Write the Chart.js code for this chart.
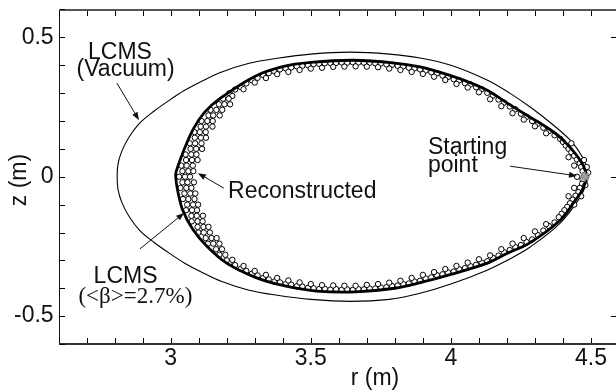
<!DOCTYPE html>
<html><head><meta charset="utf-8">
<script src="https://cdn.jsdelivr.net/npm/chart.js@4.4.0/dist/chart.umd.min.js"></script>
<style>
html,body{margin:0;padding:0;overflow:hidden;background:#fff;width:616px;height:391px}
#wrap{position:absolute;left:0;top:0;width:620px;height:391px}
canvas{display:block}
</style>
</head><body><div id="wrap"><canvas id="c" width="620" height="391" style="width:620px;height:391px"></canvas></div>
<script>
// ---- axis ranges and tick labels ----
const xRange = [2.6, 4.6];
const yRange = [-0.6, 0.6];
const xTickLabels = [3, 3.5, 4, 4.5];
const yTickLabels = [-0.5, 0, 0.5];
const minorStep = 0.1;

// ---- LCMS (vacuum), outer thin curve ----
const vacR = [4.49,4.487,4.47,4.426,4.36,4.283,4.21,4.129,4.0,3.89,3.78,3.64,3.50,3.38,3.28,3.18,3.104,3.05,2.996,2.94,2.889,2.85,2.825,2.812,2.809,2.812,2.825,2.85,2.889,2.94,2.996,3.05,3.104,3.18,3.28,3.38,3.50,3.64,3.78,3.89,4.0,4.129,4.21,4.283,4.39,4.461,4.485,4.49];
const vacZ = [0,0.024,0.07,0.131,0.19,0.25,0.30,0.347,0.40,0.426,0.44,0.447,0.44,0.425,0.407,0.375,0.339,0.31,0.275,0.235,0.192,0.14,0.09,0.045,0,-0.045,-0.09,-0.14,-0.192,-0.235,-0.275,-0.31,-0.339,-0.375,-0.407,-0.425,-0.44,-0.447,-0.44,-0.418,-0.385,-0.335,-0.295,-0.252,-0.166,-0.074,-0.02,0];

// ---- LCMS (<beta>=2.7%), inner thick curve ----
const lcmsR = [4.487,4.47,4.43,4.38,4.33,4.28,4.20,4.13,4.05,3.95,3.89,3.80,3.65,3.50,3.40,3.30,3.175,3.12,3.08,3.045,3.02,3.018,3.025,3.043,3.08,3.13,3.2,3.3,3.4,3.52,3.66,3.8,3.89,4.0,4.13,4.2,4.28,4.39,4.44,4.47,4.487];
const lcmsZ = [0,0.045,0.10,0.15,0.185,0.215,0.265,0.31,0.345,0.378,0.394,0.408,0.418,0.41,0.395,0.36,0.28,0.23,0.17,0.09,0.02,0,-0.05,-0.12,-0.19,-0.25,-0.31,-0.36,-0.39,-0.41,-0.413,-0.40,-0.38,-0.35,-0.31,-0.275,-0.238,-0.156,-0.09,-0.045,0];

// ---- Reconstructed points (open circles) ----
const recR = [
3.21,3.23,3.25,3.27,3.29,3.31,3.33,3.35,3.37,3.39,3.41,3.43,3.45,3.47,3.49,3.51,3.53,3.55,3.57,3.59,3.61,3.63,3.65,3.67,3.69,3.71,3.73,3.75,3.77,3.79,3.81,3.83,3.85,3.87,3.89,3.91,3.93,3.95,3.97,3.99,4.01,4.03,4.05,4.07,4.09,4.11,4.13,4.15,4.17,4.19,4.21,4.23,4.25,4.27,4.29,4.31,4.33,4.35,4.37,4.39,
3.22,3.26,3.30,3.34,3.38,3.42,3.46,3.50,3.54,3.58,3.62,3.66,3.70,3.74,3.78,3.82,3.86,3.90,3.94,3.98,4.02,4.06,4.10,4.14,4.18,4.22,4.26,4.30,4.34,
3.21,3.23,3.25,3.27,3.29,3.31,3.33,3.35,3.37,3.39,3.41,3.43,3.45,3.47,3.49,3.51,3.53,3.55,3.57,3.59,3.61,3.63,3.65,3.67,3.69,3.71,3.73,3.75,3.77,3.79,3.81,3.83,3.85,3.87,3.89,3.91,3.93,3.95,3.97,3.99,4.01,4.03,4.05,4.07,4.09,4.11,4.13,4.15,4.17,4.19,4.21,4.23,4.25,4.27,4.29,4.31,4.33,4.35,4.37,4.39,
3.22,3.26,3.30,3.34,3.38,3.42,3.46,3.50,3.54,3.58,3.62,3.66,3.70,3.74,3.78,3.82,3.86,3.90,3.94,3.98,4.02,4.06,4.10,4.14,4.18,4.22,4.26,4.30,4.34,
4.40,4.41,4.42,4.43,4.44,4.45,4.46,4.465,4.47,4.475,4.47,4.468,4.46,4.455,4.445,4.435,4.425,4.415,4.405,4.395,4.385,
4.475,4.485,4.49,4.48,4.465,4.43,4.44,4.44,4.45,4.44,4.42,4.42,
3.187,3.207,
3.172,3.192,3.212,
3.142,3.163,3.184,
3.135,3.152,3.175,
3.110,3.131,3.150,
3.107,3.126,3.149,
3.085,3.104,3.125,
3.086,3.108,3.126,
3.068,3.087,3.110,
3.071,3.091,3.112,
3.053,3.074,3.092,
3.055,3.076,3.096,
3.038,3.057,3.079,
3.042,3.063,3.081,
3.030,3.051,3.069,
3.042,3.060,3.083,
3.035,3.056,3.074,
3.049,3.070,3.088,
3.044,3.063,3.085,
3.059,3.080,3.098,
3.055,3.076,3.094,
3.074,3.093,3.115,
3.075,3.096,3.114,
3.096,3.117,3.135,
3.099,3.118,3.140,
3.125,3.146,3.164,
3.133,3.152,3.174,
3.162,3.183,
3.174,3.195,
3.20
];
const recZ = [
0.300,0.313,0.322,0.335,0.346,0.355,0.365,0.372,0.378,0.385,0.389,0.392,0.396,0.398,0.400,0.404,0.405,0.407,0.408,0.408,0.410,0.409,0.411,0.410,0.409,0.409,0.407,0.406,0.403,0.402,0.398,0.396,0.391,0.389,0.385,0.381,0.375,0.371,0.363,0.358,0.350,0.346,0.336,0.331,0.321,0.314,0.301,0.291,0.277,0.266,0.252,0.242,0.226,0.215,0.200,0.190,0.176,0.164,0.149,0.136,
0.290,0.314,0.338,0.354,0.368,0.376,0.383,0.388,0.391,0.394,0.395,0.396,0.395,0.393,0.388,0.383,0.376,0.369,0.359,0.347,0.333,0.320,0.303,0.278,0.253,0.228,0.205,0.181,0.156,
-0.309,-0.317,-0.330,-0.338,-0.348,-0.354,-0.363,-0.368,-0.376,-0.379,-0.385,-0.387,-0.393,-0.394,-0.399,-0.400,-0.403,-0.402,-0.405,-0.403,-0.406,-0.404,-0.406,-0.403,-0.404,-0.401,-0.401,-0.397,-0.396,-0.392,-0.390,-0.385,-0.383,-0.376,-0.373,-0.365,-0.361,-0.353,-0.350,-0.343,-0.340,-0.332,-0.328,-0.321,-0.316,-0.308,-0.303,-0.291,-0.283,-0.271,-0.263,-0.252,-0.245,-0.234,-0.225,-0.209,-0.193,-0.177,-0.164,-0.147,
-0.298,-0.320,-0.338,-0.352,-0.363,-0.372,-0.379,-0.385,-0.389,-0.390,-0.391,-0.391,-0.388,-0.385,-0.380,-0.373,-0.363,-0.352,-0.342,-0.331,-0.320,-0.308,-0.296,-0.282,-0.260,-0.240,-0.220,-0.196,-0.170,
0.125,0.112,0.100,0.088,0.075,0.062,0.048,0.035,0.020,0.005,-0.010,-0.025,-0.040,-0.055,-0.068,-0.082,-0.095,-0.108,-0.120,-0.133,-0.145,
0.060,0.035,0.015,-0.030,-0.070,0.120,-0.100,0.040,0.000,-0.040,0.070,-0.070,
0.28,0.28,
0.26,0.26,0.26,
0.24,0.24,0.24,
0.22,0.22,0.22,
0.20,0.20,0.20,
0.18,0.18,0.18,
0.16,0.16,0.16,
0.14,0.14,0.14,
0.12,0.12,0.12,
0.10,0.10,0.10,
0.08,0.08,0.08,
0.06,0.06,0.06,
0.04,0.04,0.04,
0.02,0.02,0.02,
0.00,0.00,0.00,
-0.02,-0.02,-0.02,
-0.04,-0.04,-0.04,
-0.06,-0.06,-0.06,
-0.08,-0.08,-0.08,
-0.10,-0.10,-0.10,
-0.12,-0.12,-0.12,
-0.14,-0.14,-0.14,
-0.16,-0.16,-0.16,
-0.18,-0.18,-0.18,
-0.20,-0.20,-0.20,
-0.22,-0.22,-0.22,
-0.24,-0.24,-0.24,
-0.26,-0.26,
-0.28,-0.28,
-0.30
];

// ---- starting point ----
const startR = [4.478];
const startZ = [0];

// ---- annotations (data units) ----
const labelTexts = ['LCMS','(Vacuum)','LCMS','(<\u03B2>=2.7%)','Reconstructed','Starting','point'];
const labelR = [2.819, 2.839, 2.839, 2.874, 3.205, 3.918, 3.918];
const labelZ = [0.424, 0.361, -0.381, -0.453, -0.076, 0.081, 0.017];
const labelAlign = ['center','center','center','center','left','left','left'];
const labelSerif = [false,false,false,true,false,false,false];

const arrowFromR = [2.808, 2.890, 3.190, 4.211];
const arrowFromZ = [0.336, -0.259, -0.041, 0.038];
const arrowToR   = [2.887, 3.048, 3.097, 4.450];
const arrowToZ   = [0.203, -0.130, 0.013, 0.003];

const toPts = (rs, zs) => rs.map((r, i) => ({x: r, y: zs[i]}));

const SANS = '"Liberation Sans", Arial, Helvetica, sans-serif';
const SERIF = '"Liberation Serif", "Times New Roman", serif';

const framePlugin = {
  id: 'frame',
  afterDraw(chart) {
    const {ctx, chartArea: a, scales: {x, y}} = chart;
    ctx.save();
    const L = Math.round(a.left), R = Math.round(a.right), T = Math.round(a.top), B = Math.round(a.bottom);
    // frame lines
    ctx.fillStyle = '#111';
    ctx.fillRect(L, T, 1, B - T + 1);          // left axis
    ctx.fillStyle = '#333';
    ctx.fillRect(L, B - 1, R - L, 2);           // bottom axis
    ctx.fillStyle = '#555';
    ctx.fillRect(L, T - 1, R - L, 2);           // top border
    ctx.fillStyle = '#333';
    ctx.fillRect(R - 1, T, 1, B - T);           // right border
    // inward ticks
    const TL = 5;
    ctx.fillStyle = '#000';
    const nx = Math.round((xRange[1] - xRange[0]) / minorStep);
    for (let i = 0; i <= nx; i++) {
      const px = Math.round(x.getPixelForValue(xRange[0] + i * minorStep));
      ctx.fillRect(px, B - 1 - TL, 1, TL);
      ctx.fillRect(px, T + 1, 1, TL);
    }
    const ny = Math.round((yRange[1] - yRange[0]) / minorStep);
    for (let i = 0; i <= ny; i++) {
      const py = Math.round(y.getPixelForValue(yRange[0] + i * minorStep));
      ctx.fillRect(L + 1, py, TL, 1);
    }
    for (let i = 0; i < yTickLabels.length; i++) {
      const py = Math.round(y.getPixelForValue(yTickLabels[i]));
      ctx.fillRect(R - 1 - TL - 2, py, TL + 2, 1);
    }

    ctx.fillStyle = '#111';
    // axis titles
    ctx.font = '23px ' + SANS;
    ctx.textAlign = 'center'; ctx.textBaseline = 'middle';
    ctx.fillText('r (m)', 375, 379);
    ctx.save();
    ctx.translate(20, 180); ctx.rotate(-Math.PI / 2);
    ctx.fillText('z (m)', 0, 0);
    ctx.restore();
    // labels
    ctx.textBaseline = 'alphabetic';
    for (let i = 0; i < labelTexts.length; i++) {
      ctx.font = '23px ' + (labelSerif[i] ? SERIF : SANS);
      ctx.textAlign = labelAlign[i];
      ctx.fillText(labelTexts[i], x.getPixelForValue(labelR[i]), y.getPixelForValue(labelZ[i]));
    }
    // arrows
    ctx.strokeStyle = '#111'; ctx.lineWidth = 1;
    for (let i = 0; i < arrowFromR.length; i++) {
      const x1 = x.getPixelForValue(arrowFromR[i]), y1 = y.getPixelForValue(arrowFromZ[i]);
      const x2 = x.getPixelForValue(arrowToR[i]), y2 = y.getPixelForValue(arrowToZ[i]);
      const ang = Math.atan2(y2 - y1, x2 - x1);
      const hl = 8, hw = 3;
      const bx = x2 - hl * Math.cos(ang), by = y2 - hl * Math.sin(ang);
      ctx.beginPath(); ctx.moveTo(x1, y1); ctx.lineTo(bx, by); ctx.stroke();
      ctx.beginPath();
      ctx.moveTo(x2, y2);
      ctx.lineTo(bx + hw * Math.sin(ang), by - hw * Math.cos(ang));
      ctx.lineTo(bx - hw * Math.sin(ang), by + hw * Math.cos(ang));
      ctx.closePath(); ctx.fill();
    }
    ctx.restore();
  }
};

Chart.defaults.font.family = SANS;
Chart.defaults.font.size = 23;
Chart.defaults.color = '#111';

new Chart(document.getElementById('c'), {
  type: 'scatter',
  data: {
    datasets: [
      { label: 'Starting point', data: toPts(startR, startZ), pointStyle: 'star', pointRadius: 5,
        borderColor: '#9a9a9a', backgroundColor: '#bdbdbd', borderWidth: 2, showLine: false },
      { label: 'LCMS beta', data: toPts(lcmsR, lcmsZ), showLine: true, pointRadius: 0,
        borderColor: '#000', borderWidth: 2.8, tension: 0.35, fill: false },
      { label: 'Reconstructed', data: toPts(recR, recZ), showLine: false, pointRadius: 2.7,
        pointStyle: 'circle', borderColor: '#000', backgroundColor: '#fff', borderWidth: 1 },
      { label: 'LCMS vacuum', data: toPts(vacR, vacZ), showLine: true, pointRadius: 0,
        borderColor: '#000', borderWidth: 1.1, tension: 0.35, fill: false }
    ]
  },
  options: {
    responsive: false,
    animation: false,
    devicePixelRatio: 1,
    layout: { autoPadding: false, padding: { left: 0, right: 1, top: 9.5, bottom: 0 } },
    plugins: { legend: { display: false }, tooltip: { enabled: false } },
    scales: {
      x: {
        type: 'linear', min: xRange[0], max: xRange[1],
        grid: { display: false, drawTicks: false },
        border: { display: false },
        afterBuildTicks: s => { s.ticks = xTickLabels.map(v => ({ value: v })); },
        ticks: { padding: 1, color: '#111', maxRotation: 0, autoSkip: false,
                 callback: v => String(v) },
        afterFit: s => { s.height = 47; s.paddingLeft = 0; s.paddingRight = 0; }
      },
      y: {
        type: 'linear', min: yRange[0], max: yRange[1],
        grid: { display: false, drawTicks: false },
        border: { display: false },
        afterBuildTicks: s => { s.ticks = yTickLabels.map(v => ({ value: v })); },
        ticks: { padding: 5, color: '#111', autoSkip: false,
                 callback: v => String(v) },
        afterFit: s => { s.width = 58.6; s.paddingTop = 0; s.paddingBottom = 0; }
      }
    }
  },
  plugins: [framePlugin]
});
</script>
</body></html>
